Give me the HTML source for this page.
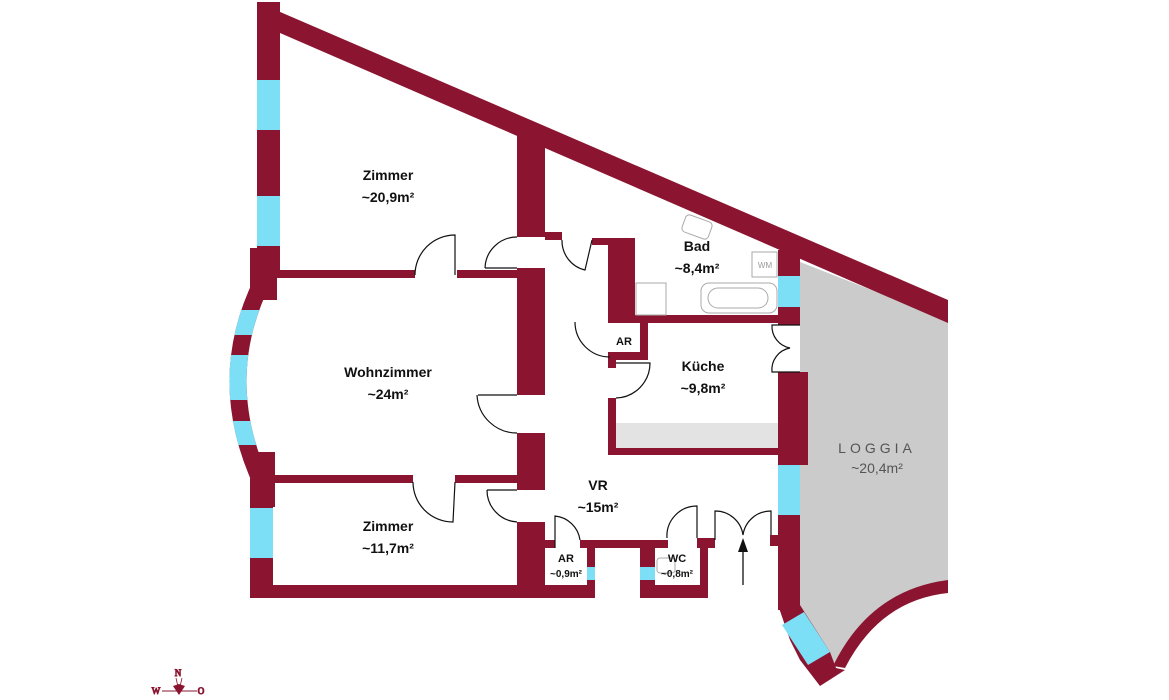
<!DOCTYPE html>
<html><head><meta charset="utf-8"><style>
html,body{margin:0;padding:0;background:#fff;}
svg{display:block;}
text{font-family:"Liberation Sans",sans-serif;font-weight:bold;fill:#111;text-anchor:middle;}
</style></head><body>
<svg width="1169" height="700" viewBox="0 0 1169 700" xmlns="http://www.w3.org/2000/svg">
<defs>
<clipPath id="w1"><rect x="200" y="310" width="80" height="25"/><rect x="200" y="355" width="80" height="45"/><rect x="200" y="421" width="80" height="24"/></clipPath>
</defs>
<!-- loggia floor -->
<polygon points="800,262 948,320 948,586 915,592 880,612 855,640 835,668 800,610" fill="#cbcbcb"/>
<!-- kitchen counter -->
<rect x="616" y="423" width="162" height="25" fill="#e3e3e3"/>
<g fill="#8b1530">
<polygon points="257,2 948,300 948,323 280,33"/>
<rect x="257" y="2" width="23" height="273"/>
<rect x="250" y="248" width="27" height="52"/>
<rect x="250" y="452" width="25" height="55"/>
<rect x="250" y="505" width="23" height="93"/>
<rect x="250" y="585" width="345" height="13"/>
<rect x="640" y="585" width="68" height="13"/>
<rect x="277" y="270" width="138" height="8"/>
<rect x="457" y="270" width="62" height="8"/>
<rect x="273" y="475" width="140" height="8"/>
<rect x="455" y="475" width="64" height="8"/>
<rect x="517" y="135" width="28" height="102"/>
<rect x="517" y="268" width="28" height="127"/>
<rect x="517" y="433" width="28" height="57"/>
<rect x="517" y="522" width="28" height="76"/>
<rect x="545" y="232" width="17" height="8"/>
<rect x="592" y="238" width="43" height="7"/>
<rect x="608" y="243" width="27" height="77"/>
<rect x="608" y="315" width="192" height="8"/>
<rect x="778" y="250" width="22" height="26"/>
<rect x="778" y="307" width="22" height="18"/>
<rect x="640" y="320" width="8" height="40"/>
<rect x="608" y="352" width="40" height="8"/>
<rect x="608" y="352" width="8" height="16"/>
<rect x="608" y="398" width="8" height="57"/>
<rect x="608" y="448" width="172" height="7"/>
<rect x="778" y="372" width="30" height="93"/>
<rect x="778" y="515" width="22" height="95"/>
<rect x="770" y="535" width="10" height="11"/>
<rect x="545" y="540" width="10" height="8"/>
<rect x="580" y="540" width="88" height="8"/>
<rect x="587" y="540" width="8" height="58"/>
<rect x="640" y="540" width="15" height="58"/>
<rect x="697" y="538" width="18" height="10"/>
<rect x="700" y="538" width="8" height="60"/>
<polygon points="778,605 800,605 830,652 836,668 845,670 820,686 800,660 790,640"/>
<path d="M948,580 L948,593 Q880,600 845,668 L833,666 Q870,590 948,580 Z"/>
</g>
<!-- bay -->
<path d="M264,278 Q212,380 264,488" fill="none" stroke="#8b1530" stroke-width="17"/>
<path d="M264,278 Q212,380 264,488" fill="none" stroke="#7ddff5" stroke-width="17" clip-path="url(#w1)"/>
<g fill="#7ddff5">
<rect x="257" y="80" width="23" height="50"/>
<rect x="257" y="196" width="23" height="50"/>
<rect x="250" y="508" width="23" height="50"/>
<rect x="778" y="276" width="22" height="31"/>
<rect x="778" y="465" width="22" height="50"/>
<polygon points="782,625 804,612 830,652 808,665"/>
<rect x="587" y="567" width="8" height="13"/>
<rect x="640" y="567" width="15" height="13"/>
</g>
<g fill="none" stroke="#111" stroke-width="1.2">
<path d="M415,275 A40,40 0 0 1 455,235 L455,275"/>
<path d="M485,268 L517,268 M485,268 A32,32 0 0 1 517,237"/>
<path d="M562,240 A30,30 0 0 0 585,270 L592,240"/>
<path d="M575,322 A35,35 0 0 0 610,357"/>
<path d="M616,363 L650,363 A35,35 0 0 1 616,398"/>
<path d="M478,395 L517,395 M477,395 A40,40 0 0 0 517,433"/>
<path d="M413,482 A40,40 0 0 0 453,522 L455,482"/>
<path d="M487,490 L517,490 M487,490 A32,32 0 0 0 517,522"/>
<path d="M555,548 L555,516 A28,28 0 0 1 580,540"/>
<path d="M667,538 A30,30 0 0 1 697,506 L697,538"/>
<path d="M715,540 L715,511 A28,28 0 0 1 743,535 A28,28 0 0 1 771,511 L771,535"/>
<path d="M800,325 L772,325 A22,22 0 0 0 790,348 A22,22 0 0 0 772,372 L800,372"/>
</g>
<g fill="none" stroke="#aaa" stroke-width="1">
<rect x="701" y="283" width="76" height="30" rx="8"/>
<rect x="708" y="288" width="60" height="20" rx="10"/>
<rect x="752" y="252" width="25" height="25"/>
<rect x="636" y="283" width="30" height="32"/>
<rect x="683" y="218" width="28" height="18" rx="4" transform="rotate(20 697 227)"/>
<rect x="657" y="558" width="18" height="15" rx="3"/>
</g>
<text x="765" y="268" style="font-size:8px;font-weight:normal;fill:#999">WM</text>
<line x1="743" y1="585" x2="743" y2="550" stroke="#111" stroke-width="1.3"/>
<polygon points="743,538 738,552 748,552" fill="#111"/>
<g style="font-size:14px">
<text x="388" y="180">Zimmer</text><text x="388" y="202">~20,9m²</text>
<text x="697" y="251">Bad</text><text x="697" y="273">~8,4m²</text>
<text x="388" y="377">Wohnzimmer</text><text x="388" y="399">~24m²</text>
<text x="703" y="371">Küche</text><text x="703" y="393">~9,8m²</text>
<text x="598" y="490">VR</text><text x="598" y="512">~15m²</text>
<text x="388" y="531">Zimmer</text><text x="388" y="553">~11,7m²</text>
<text x="877" y="453" style="font-size:14px;font-weight:normal;fill:#555;letter-spacing:4px">LOGGIA</text>
<text x="877" y="473" style="font-weight:normal;fill:#555">~20,4m²</text>
</g>
<g style="font-size:11px">
<text x="624" y="345">AR</text>
<text x="566" y="562">AR</text><text x="566" y="577" style="font-size:10px">~0,9m²</text>
<text x="677" y="562">WC</text><text x="677" y="577" style="font-size:10px">~0,8m²</text>
</g>
<g fill="#8b1530" stroke="#8b1530">
<text x="178" y="676" style="font-size:9px;font-family:'Liberation Serif',serif;font-weight:normal;fill:#8b1530">N</text>
<text x="156" y="694" style="font-size:9px;font-family:'Liberation Serif',serif;font-weight:normal;fill:#8b1530">W</text>
<text x="201" y="694" style="font-size:9px;font-family:'Liberation Serif',serif;font-weight:normal;fill:#8b1530">O</text>
<polygon points="173,686 179,684 185,686 179,695" stroke="none"/>
<line x1="162" y1="691" x2="197" y2="691" stroke-width="1"/>
<line x1="176" y1="678" x2="179" y2="691" stroke-width="0.8"/>
<line x1="182" y1="678" x2="179" y2="691" stroke-width="0.8"/>
</g>
</svg>
</body></html>
